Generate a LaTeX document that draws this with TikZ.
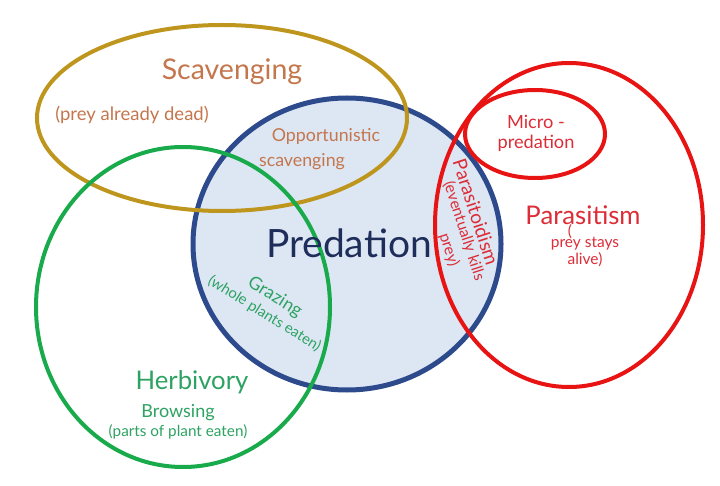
\documentclass[tikz,border=0pt]{standalone}
\usepackage{fontspec}
\setmainfont{Lato}
\usepackage{tikz}
\usetikzlibrary{positioning}

\definecolor{scavgold}{RGB}{190,150,30}
\definecolor{scavtext}{RGB}{196,118,76}
\definecolor{predblue}{RGB}{45,75,140}
\definecolor{predfill}{RGB}{221,231,244}
\definecolor{predtext}{RGB}{30,45,90}
\definecolor{herbgreen}{RGB}{25,170,75}
\definecolor{herbtext}{RGB}{45,162,98}
\definecolor{parared}{RGB}{232,20,20}
\definecolor{paratext}{RGB}{220,45,55}

\begin{document}
\begin{tikzpicture}[x=1pt, y=-1pt,
        ring/.style={line width=4pt},
        lbl/.style={inner sep=0pt, align=center}]
        \useasboundingbox (0,0) rectangle (720,486);
        \coordinate (P) at (347,244);
        \coordinate (S) at (222,118);
        \coordinate (H) at (183,307);
        \coordinate (R) at (569,225);
        \coordinate (M) at (535,134);
        \draw[line width=5pt, predblue, fill=predfill] (P) ellipse [x radius=154pt, y radius=146pt];
        \draw[ring, scavgold] (S) ellipse [x radius=185pt, y radius=93pt];
        \draw[ring, herbgreen] (H) ellipse [x radius=147pt, y radius=160pt];
        \draw[ring, parared] (R) ellipse [x radius=134pt, y radius=162pt];
        \draw[ring, parared] (M) ellipse [x radius=70pt, y radius=44pt];
        \node[lbl, scavtext, font=\fontsize{28.5}{32}\selectfont] (scav) at (232,72) {Scavenging};
        \node[lbl, scavtext, font=\fontsize{18.5}{22}\selectfont] (dead) at (132,115) {(prey already dead)};
        \node[lbl, scavtext, font=\fontsize{17.8}{21}\selectfont] (opp) at (326,137) {Opportunistic};
        \node[lbl, scavtext, font=\fontsize{17.8}{21}\selectfont] (oppscav) at (302,162) {scavenging};
        \node[lbl, predtext, font=\fontsize{39}{42}\selectfont] (pred) at (349,243) {Predation};
        \node[lbl, paratext, font=\fontsize{18.2}{20}\selectfont] (micro) at (536,133) {Micro -\\predation};
        \node[lbl, paratext, font=\fontsize{25.7}{29}\selectfont] (para) at (583,215) {Parasitism};
        \node[lbl, paratext, font=\fontsize{15.5}{17}\selectfont] (paren) at (570,232) {(};
        \node[lbl, paratext, font=\fontsize{15.5}{17}\selectfont] (alive) at (585,252) {prey stays\\alive)};
        \node[lbl, paratext, rotate=-72, font=\fontsize{19}{20}\selectfont] (paroid) at (476,212) {Parasitoidism};
        \node[lbl, paratext, rotate=-72, font=\fontsize{15.5}{17}\selectfont] (kills) at (464,231) {(eventually kills};
        \node[lbl, paratext, rotate=-72, font=\fontsize{15.5}{17}\selectfont] (prey) at (449,250) {prey)};
        \node[lbl, herbtext, rotate=-32, font=\fontsize{14.8}{19}\selectfont] (graz) at (270,305)
            {{\fontsize{18}{19}\selectfont Grazing}\\(whole plants eaten)};
        \node[lbl, herbtext, font=\fontsize{25.7}{29}\selectfont] (herb) at (192,382) {Herbivory};
        \node[lbl, herbtext, font=\fontsize{18}{21}\selectfont] (brow) at (178,413) {Browsing};
        \node[lbl, herbtext, font=\fontsize{15.3}{18}\selectfont] (parts) at (178,432) {(parts of plant eaten)};
\end{tikzpicture}
\end{document}
